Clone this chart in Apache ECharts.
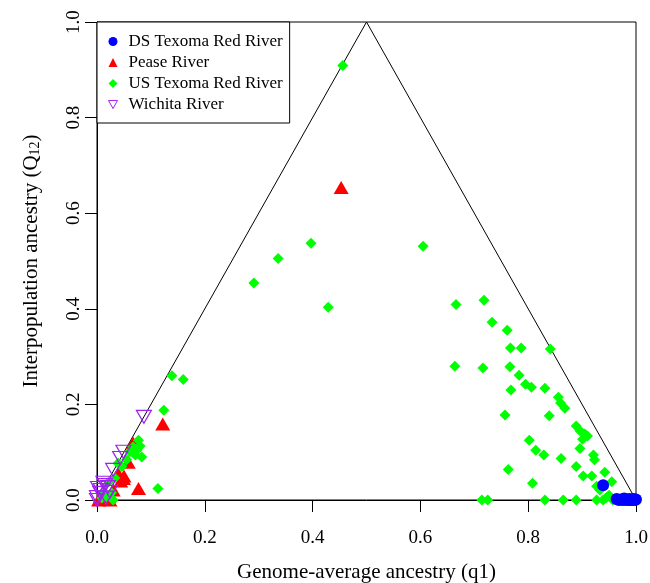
<!DOCTYPE html>
<html>
<head>
<meta charset="utf-8">
<script src="https://cdn.jsdelivr.net/npm/echarts@6/dist/echarts.min.js"></script>
<style>html,body{margin:0;padding:0;background:#fff;}#c{width:650px;height:583px;}</style>
</head>
<body>
<div id="c"></div>
<script>
// ---- data ----
var seriesNames = ['DS Texoma Red River', 'Pease River', 'US Texoma Red River', 'Wichita River'];
var xTicks = [0, 0.2, 0.4, 0.6, 0.8, 1.0];
var yTicks = [0, 0.2, 0.4, 0.6, 0.8, 1.0];
var triangleX = [0, 0.5, 1];
var triangleY = [0, 1, 0];

var dsX = [0.939, 0.964, 0.968, 0.972, 0.975, 0.978, 0.981, 0.984, 0.986, 0.988, 0.990, 0.992, 0.994, 0.996, 0.998, 1.000];
var dsY = [0.031, 0.002, 0.000, 0.001, 0.000, 0.003, 0.000, 0.001, 0.000, 0.002, 0.000, 0.001, 0.000, 0.002, 0.000, 0.001];

var peaseX = [0.453, 0.122, 0.077, 0.049, 0.039, 0.067, 0.058, 0.030, 0.024, 0.003, 0.006, 0.044, 0.050];
var peaseY = [0.654, 0.159, 0.024, 0.045, 0.056, 0.119, 0.079, 0.021, 0.000, 0.000, 0.006, 0.040, 0.050];

var usX = [0.456, 0.397, 0.336, 0.291, 0.429, 0.605, 0.666, 0.718, 0.733, 0.664, 0.716, 0.714, 0.725,
  0.761, 0.767, 0.787, 0.841, 0.766, 0.783, 0.768, 0.795, 0.806, 0.831, 0.856, 0.860, 0.868, 0.757, 0.839,
  0.889, 0.896, 0.905, 0.910, 0.901, 0.802, 0.814, 0.829, 0.861, 0.896, 0.921, 0.923, 0.763, 0.889, 0.902,
  0.918, 0.942, 0.808, 0.955, 0.927, 0.933, 0.831, 0.865, 0.889, 0.927, 0.939, 0.957, 0.950, 0.945,
  0.139, 0.160, 0.124, 0.113, 0.077, 0.067, 0.083, 0.061, 0.074, 0.055, 0.046, 0.039, 0.080, 0.071,
  0.009, 0.018, 0.027, 0.030, 0.013, 0.022, 0.033];
var usY = [0.909, 0.537, 0.505, 0.454, 0.403, 0.531, 0.409, 0.418, 0.372, 0.280, 0.276, 0.000, 0.000,
  0.355, 0.318, 0.318, 0.316, 0.279, 0.261, 0.230, 0.242, 0.236, 0.234, 0.215, 0.203, 0.192, 0.178, 0.176,
  0.155, 0.145, 0.138, 0.134, 0.127, 0.125, 0.104, 0.094, 0.087, 0.108, 0.094, 0.084, 0.064, 0.070, 0.050,
  0.050, 0.058, 0.035, 0.038, 0.029, 0.021, 0.000, 0.000, 0.000, 0.000, 0.000, 0.000, 0.010, 0.005,
  0.260, 0.252, 0.188, 0.024, 0.125, 0.111, 0.090, 0.101, 0.104, 0.084, 0.070, 0.077, 0.113, 0.094,
  0.004, 0.007, 0.015, 0.000, 0.017, 0.038, 0.046];

var wichitaX = [0.087, 0.049, 0.030, 0.043, 0.015, 0.012, 0.020, 0.002, 0.006, 0.000, 0.000, 0.007, 0.024, 0.017];
var wichitaY = [0.174, 0.101, 0.063, 0.088, 0.031, 0.036, 0.027, 0.025, 0.015, 0.006, 0.000, 0.021, 0.017, 0.005];

function zip(a, b) { return a.map(function (v, i) { return [v, b[i]]; }); }

var FONT = 'Liberation Serif';
var chart = echarts.init(document.getElementById('c'), null, {renderer: 'canvas'});

var axisCommon = {
  type: 'value', min: 0, max: 1, interval: 0.2,
  axisLine: {show: true, lineStyle: {color: '#000', width: 1}},
  axisTick: {show: true, length: 12, lineStyle: {color: '#000', width: 1}},
  splitLine: {show: false},
  nameLocation: 'middle'
};

var option = {
  backgroundColor: '#fff',
  animation: false,
  grid: {left: 97, right: 14, top: 22, bottom: 83, show: true, borderColor: '#000', borderWidth: 1,
    backgroundColor: 'transparent', containLabel: false, outerBoundsMode: 'none'},
  xAxis: Object.assign({}, axisCommon, {
    name: 'Genome-average ancestry (q1)',
    nameGap: 62,
    nameTextStyle: {fontFamily: FONT, fontSize: 21, color: '#000'},
    axisLabel: {fontFamily: FONT, fontSize: 19, color: '#000', margin: 29,
      formatter: function (v) { return xTicks.indexOf(+v.toFixed(1)) >= 0 ? v.toFixed(1) : ''; }}
  }),
  yAxis: Object.assign({}, axisCommon, {
    name: 'Interpopulation ancestry (Q{sub|12})',
    nameGap: 55,
    nameRotate: 90,
    nameTextStyle: {fontFamily: FONT, fontSize: 21, color: '#000', lineHeight: 22,
      rich: {sub: {fontFamily: FONT, fontSize: 14, lineHeight: 14, verticalAlign: 'bottom', color: '#000'}}},
    axisLabel: {fontFamily: FONT, fontSize: 19, color: '#000', margin: 13, rotate: 90,
      formatter: function (v) { return yTicks.indexOf(+v.toFixed(1)) >= 0 ? v.toFixed(1) : ''; }}
  }),
  legend: {
    left: 97, top: 22, orient: 'vertical',
    backgroundColor: '#fff', borderColor: '#000', borderWidth: 1,
    padding: [11, 7, 10, 11],
    itemWidth: 9, itemHeight: 9, itemGap: 4,
    textStyle: {fontFamily: FONT, fontSize: 17, color: '#000', lineHeight: 17, padding: [0, 0, 0, 6]},
    data: [
      {name: seriesNames[0], icon: 'circle', itemStyle: {color: '#0000FF'}},
      {name: seriesNames[1], icon: 'triangle', itemStyle: {color: '#FF0000'}},
      {name: seriesNames[2], icon: 'diamond', itemStyle: {color: '#00FF00'}},
      {name: seriesNames[3], icon: 'path://M0,0 L10,0 L5,9 Z', itemStyle: {color: 'rgba(0,0,0,0)', borderColor: '#A020F0', borderWidth: 1}}
    ],
    z: 10
  },
  series: [
    {type: 'line', name: 'triangle', data: zip(triangleX, triangleY), symbol: 'none', silent: true,
      lineStyle: {color: '#000', width: 1}, z: 1},
    {type: 'scatter', name: seriesNames[1], data: zip(peaseX, peaseY), symbol: 'triangle', symbolSize: [15, 13],
      itemStyle: {color: '#FF0000', opacity: 1}, z: 2},
    {type: 'scatter', name: seriesNames[2], data: zip(usX, usY), symbol: 'diamond', symbolSize: 11,
      itemStyle: {color: '#00FF00', opacity: 1}, z: 3},
    {type: 'scatter', name: seriesNames[0], data: zip(dsX, dsY), symbol: 'circle', symbolSize: 12,
      itemStyle: {color: '#0000FF', opacity: 1}, z: 4},
    {type: 'scatter', name: seriesNames[3], data: zip(wichitaX, wichitaY), symbol: 'triangle', symbolRotate: 180,
      symbolSize: [15, 13],
      itemStyle: {color: 'rgba(0,0,0,0)', borderColor: '#A020F0', borderWidth: 1.2, opacity: 1}, z: 5}
  ]
};
chart.setOption(option);
</script>
</body>
</html>
